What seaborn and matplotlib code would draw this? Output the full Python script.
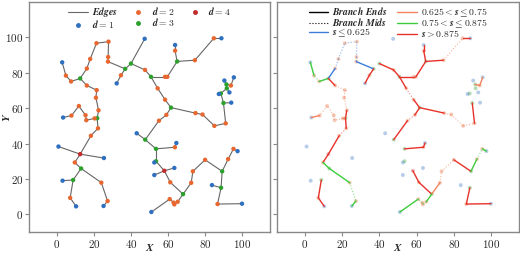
import numpy as np
import pandas as pd
import seaborn as sns
import matplotlib.pyplot as plt
from matplotlib.lines import Line2D
from matplotlib.ticker import FuncFormatter

# %% Data

# node coordinates
node_x = [2.9, 4.9, 7.7, 12.6, 16.2, 18.0, 21.4, 27.9, 27.7, 27.6,
          36.9, 34.6, 32.3, 40.0, 47.4, 47.6, 50.8, 16.2, 21.5, 21.1,
          22.5, 21.8, 20.4, 15.9, 15.5, 11.9, 7.9, 3.4, 22.2, 18.4,
          12.6, 0.9, 25.4, 9.7, 13.1, 8.8, 3.1, 7.2, 10.4, 24.0,
          27.4, 25.2, 58.4, 59.6, 64.9, 63.8, 63.8, 74.5, 84.7, 88.8,
          54.4, 58.4, 61.6, 59.1, 55.1, 47.7, 43.1, 53.5, 63.7, 64.5,
          53.5, 52.6, 58.0, 63.4, 52.6, 61.2, 68.1, 65.2, 63.4, 63.0,
          60.9, 51.0, 72.5, 73.4, 80.0, 89.2, 92.4, 95.3, 97.5, 88.6,
          83.7, 86.7, 99.9, 74.8, 78.6, 85.0, 91.1, 89.9, 94.1, 88.5,
          87.4, 91.7, 93.1, 91.5, 90.4, 93.9, 95.5]
node_y = [85.9, 78.4, 75.1, 76.8, 82.4, 87.8, 96.7, 97.6, 88.9, 86.3,
          82.2, 78.6, 74.0, 85.2, 99.2, 81.6, 77.7, 72.8, 70.2, 65.9,
          58.8, 54.3, 54.2, 53.2, 56.0, 61.2, 55.8, 54.7, 48.6, 44.4,
          34.0, 38.3, 31.8, 29.3, 25.9, 19.4, 19.0, 9.3, 4.5, 17.9,
          7.5, 4.7, 77.7, 77.7, 86.4, 92.5, 95.7, 87.1, 99.5, 99.5,
          71.2, 64.8, 60.3, 56.2, 52.9, 42.2, 45.8, 37.0, 37.9, 40.3,
          30.0, 29.3, 24.6, 26.2, 22.2, 18.1, 11.4, 7.1, 5.6, 6.6,
          8.6, 1.3, 17.8, 24.3, 30.8, 24.3, 31.2, 37.0, 35.7, 15.0,
          16.5, 5.8, 6.0, 57.2, 56.4, 50.0, 51.4, 62.9, 63.1, 68.3,
          68.0, 71.2, 68.9, 73.4, 75.6, 72.8, 77.4]

# graph edges (node index pairs)
edges = [(0, 1), (1, 2), (2, 3), (3, 4), (4, 5), (5, 6), (6, 7), (7, 8),
         (8, 9), (9, 10), (10, 11), (11, 12), (10, 13), (13, 14), (13, 15),
         (15, 16), (3, 17), (17, 18), (18, 19), (19, 20), (20, 21),
         (21, 22), (22, 23), (23, 24), (24, 25), (25, 26), (26, 27),
         (21, 28), (28, 29), (29, 30), (30, 31), (30, 32), (30, 33),
         (33, 34), (34, 35), (35, 36), (35, 37), (37, 38), (34, 39),
         (39, 40), (40, 41), (16, 42), (42, 43), (43, 44), (44, 45),
         (45, 46), (44, 47), (47, 48), (48, 49), (16, 50), (50, 51),
         (51, 52), (52, 53), (53, 54), (54, 55), (55, 56), (55, 57),
         (57, 58), (58, 59), (57, 60), (60, 61), (60, 62), (62, 63),
         (62, 64), (62, 65), (65, 66), (66, 67), (67, 68), (68, 69),
         (69, 70), (70, 71), (66, 72), (72, 73), (73, 74), (74, 75),
         (75, 76), (76, 77), (77, 78), (75, 79), (79, 80), (79, 81),
         (81, 82), (52, 83), (83, 84), (84, 85), (85, 86), (86, 87),
         (87, 88), (87, 89), (89, 90), (89, 91), (91, 92), (91, 93),
         (93, 94), (93, 95), (95, 96)]

# branch segments of the right panel: (node a, node b, s class, part)
# s class 0: s<=0.625, 1: 0.625<s<=0.75, 2: 0.75<s<=0.875, 3: s>0.875
branch_segs = [(3, 2, 2, 'end'), (2, 1, 2, 'mid'), (1, 0, 2, 'end'),
               (3, 4, 0, 'end'), (4, 5, 0, 'mid'), (5, 6, 0, 'mid'),
               (6, 7, 0, 'mid'), (7, 8, 0, 'mid'), (8, 9, 0, 'mid'),
               (9, 10, 0, 'end'),
               (3, 17, 3, 'end'), (17, 18, 1, 'mid'), (18, 19, 1, 'mid'),
               (19, 20, 1, 'mid'), (20, 21, 3, 'end'),
               (21, 22, 1, 'end'), (22, 23, 1, 'mid'), (23, 24, 1, 'mid'),
               (24, 25, 1, 'mid'), (25, 26, 1, 'mid'), (26, 27, 1, 'end'),
               (21, 28, 3, 'end'), (28, 29, 3, 'mid'), (29, 30, 3, 'end'),
               (30, 33, 3, 'end'), (33, 34, 2, 'end'), (34, 39, 2, 'end'),
               (39, 40, 2, 'mid'), (40, 41, 2, 'end'),
               (35, 37, 3, 'end'), (37, 38, 3, 'end'),
               (10, 11, 3, 'end'), (11, 12, 3, 'end'),
               (13, 15, 3, 'end'), (15, 16, 3, 'end'),
               (16, 42, 3, 'end'), (42, 43, 3, 'mid'), (43, 44, 3, 'end'),
               (44, 45, 3, 'end'), (45, 46, 3, 'end'),
               (44, 47, 3, 'end'), (47, 48, 1, 'mid'), (48, 49, 3, 'end'),
               (16, 50, 3, 'end'), (50, 51, 3, 'mid'), (51, 52, 3, 'end'),
               (52, 83, 3, 'end'), (83, 84, 1, 'mid'), (84, 85, 1, 'mid'),
               (85, 86, 1, 'mid'), (86, 87, 3, 'end'),
               (52, 53, 3, 'end'), (53, 54, 3, 'mid'), (54, 55, 3, 'end'),
               (57, 58, 3, 'end'), (58, 59, 3, 'end'),
               (62, 65, 3, 'end'), (65, 66, 3, 'end'),
               (66, 72, 1, 'end'), (72, 73, 1, 'mid'), (73, 74, 1, 'mid'),
               (74, 75, 3, 'end'),
               (75, 76, 2, 'end'), (76, 77, 2, 'mid'), (77, 78, 2, 'end'),
               (79, 81, 3, 'end'), (81, 82, 3, 'end'),
               (66, 67, 2, 'end'), (67, 68, 2, 'mid'), (68, 69, 2, 'mid'),
               (69, 70, 2, 'mid'), (70, 71, 2, 'end'),
               (93, 95, 1, 'end'), (95, 96, 1, 'end')]

s_labels = [r'$\mathbfit{s} \leq \mathbf{0.625}$',
            r'$\mathbf{0.625} < \mathbfit{s} \leq \mathbf{0.75}$',
            r'$\mathbf{0.75} < \mathbfit{s} \leq \mathbf{0.875}$',
            r'$\mathbfit{s} > \mathbf{0.875}$']
x_ticks = [0, 20, 40, 60, 80, 100]
y_ticks = [0, 20, 40, 60, 80, 100]

# %% Styling

sns.set_style('ticks')
plt.rcParams['mathtext.fontset'] = 'cm'
plt.rcParams['font.family'] = ['cmr10', 'DejaVu Serif']
plt.rcParams['axes.formatter.use_mathtext'] = True

deg_colors = {1: '#2f6fc0', 2: '#e8672f', 3: '#2ca02c', 4: '#c42a2a'}
s_colors = ['#3b7dd8', '#f4845f', '#3dcc3d', '#e8312a']

df_nodes = pd.DataFrame({'x': node_x, 'y': node_y})
deg = np.zeros(len(node_x), dtype=int)
for a, b in edges:
    deg[a] += 1
    deg[b] += 1
df_nodes['deg'] = deg

fig = plt.figure(figsize=(5.2, 2.54), dpi=100)
ax1 = fig.add_axes([29 / 520, 22 / 254, 241 / 520, 230 / 254])
ax2 = fig.add_axes([277 / 520, 22 / 254, 242 / 520, 230 / 254])

fmt = FuncFormatter(lambda v, p: r'$\mathbf{%d}$' % v)

# %% Left panel: graph coloured by degree
for a, b in edges:
    ax1.plot([node_x[a], node_x[b]], [node_y[a], node_y[b]],
             color='#666666', lw=0.8, zorder=1)
sns.scatterplot(data=df_nodes, x='x', y='y', hue='deg', palette=deg_colors,
                s=10, linewidth=0, legend=False, zorder=3, ax=ax1)
handles = [Line2D([], [], color='#666666', lw=0.8,
                  label=r'$\mathbfit{Edges}$')]
for d in [1, 2, 3, 4]:
    handles.append(Line2D([], [], color=deg_colors[d], marker='o', ms=2.5,
                          lw=0, label=r'$\mathbfit{d} = \mathbf{%d}$' % d))
ax1.legend(handles=handles, ncol=3, loc='upper center', frameon=False,
           fontsize=7, handlelength=2.0, handletextpad=0.4,
           columnspacing=1.1, borderaxespad=0.1, borderpad=0.2,
           labelspacing=-0.1)
ax1.set_xlabel(r'$\mathbfit{X}$', fontsize=8)
ax1.set_ylabel(r'$\mathbfit{Y}$', fontsize=8)
ax1.xaxis.set_label_coords(0.5, -0.042)
ax1.yaxis.set_label_coords(-0.072, 0.5)

# %% Right panel: branches coloured by s
sns.scatterplot(data=df_nodes, x='x', y='y', hue='deg', palette=deg_colors,
                s=8, linewidth=0, legend=False, alpha=0.35, zorder=2, ax=ax2)
for a, b, c, part in branch_segs:
    if part == 'end':
        ax2.plot([node_x[a], node_x[b]], [node_y[a], node_y[b]],
                 color=s_colors[c], lw=1.0, zorder=3)
    else:
        ax2.plot([node_x[a], node_x[b]], [node_y[a], node_y[b]],
                 color=s_colors[c], lw=0.8, ls=':', alpha=0.6, zorder=3)
handles = [Line2D([], [], color='k', lw=1.0,
                  label=r'$\mathbfit{Branch\ Ends}$'),
           Line2D([], [], color='k', lw=0.8, ls=':',
                  label=r'$\mathbfit{Branch\ Mids}$')]
for c in range(4):
    handles.append(Line2D([], [], color=s_colors[c], lw=1.0,
                          label=s_labels[c]))
ax2.legend(handles=handles, ncol=2, loc='upper center', frameon=False,
           fontsize=7, handlelength=2.0, handletextpad=0.4,
           columnspacing=1.0, borderaxespad=0.1, borderpad=0.2,
           labelspacing=-0.1)
ax2.set_xlabel(r'$\mathbfit{X}$', fontsize=8)
ax2.xaxis.set_label_coords(0.5, -0.042)
ax2.set_ylabel('')
ax2.tick_params(labelleft=False)

for ax in [ax1, ax2]:
    ax.set_xlim(-15, 115)
    ax.set_ylim(-10, 120)
    ax.set_xticks(x_ticks)
    ax.set_yticks(y_ticks)
    ax.xaxis.set_major_formatter(fmt)
    ax.yaxis.set_major_formatter(fmt)
    ax.tick_params(labelsize=8, length=3, color='#888888', pad=1)
    for sp in ax.spines.values():
        sp.set_color('#888888')
        sp.set_linewidth(1.0)

fig.savefig('out.png', dpi=100)
